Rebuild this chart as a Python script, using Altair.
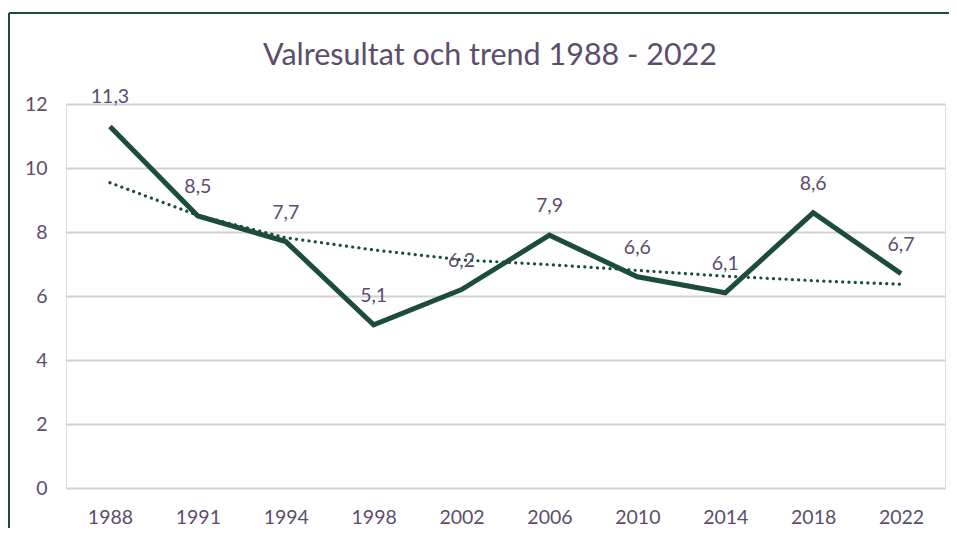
import altair as alt
import pandas as pd

years = ["1988", "1991", "1994", "1998", "2002", "2006", "2010", "2014", "2018", "2022"]
values = [11.3, 8.5, 7.7, 5.1, 6.2, 7.9, 6.6, 6.1, 8.6, 6.7]
trend = [9.54, 8.52, 7.82, 7.44, 7.13, 6.98, 6.80, 6.62, 6.48, 6.37]
labels = ["11,3", "8,5", "7,7", "5,1", "6,2", "7,9", "6,6", "6,1", "8,6", "6,7"]
title_text = ["Valresultat och trend 1988 - 2022"]

df = pd.DataFrame({"year": years, "value": values, "trend": trend, "label": labels})
tdf = pd.DataFrame({"title": title_text})

GREEN = "#1B4D3A"
TEXT = "#5B4E6C"
GRID = "#D3CFDA"
FONT = "Lato"
FS = 19.5

x = alt.X("year:O", sort=years, title=None,
          scale=alt.Scale(type="point", padding=0.5),
          axis=alt.Axis(labelAngle=0, ticks=False, domain=False, grid=False,
                        labelFont=FONT, labelFontSize=FS, labelColor=TEXT,
                        labelPadding=20))
y = alt.Y("value:Q", title=None,
          scale=alt.Scale(domain=[0, 12], nice=False, zero=True),
          axis=alt.Axis(values=[0, 2, 4, 6, 8, 10, 12], ticks=False, domain=False,
                        grid=True, gridColor=GRID, gridWidth=2,
                        labelFont=FONT, labelFontSize=FS, labelColor=TEXT,
                        labelPadding=19))

base = alt.Chart(df)

trend_line = base.mark_line(color=GREEN, strokeWidth=3.2, strokeDash=[0.1, 6.2],
                            strokeCap="round").encode(
    x=x, y=alt.Y("trend:Q", scale=alt.Scale(domain=[0, 12], nice=False)))
main_line = base.mark_line(color=GREEN, strokeWidth=5, strokeJoin="miter").encode(x=x, y=y)
text = base.mark_text(dy=-29, font=FONT, fontSize=FS, color=TEXT).encode(
    x=x, y=alt.Y("value:Q", scale=alt.Scale(domain=[0, 12], nice=False)), text="label:N")

title = alt.Chart(tdf).mark_text(font=FONT, fontSize=30.5, color=TEXT, baseline="middle",
                                 align="center").encode(
    x=alt.value(424), y=alt.value(-48), text="title:N")

border_left = base.mark_rule(color=GREEN, strokeWidth=2).encode(
    x=alt.value(-57), y=alt.value(-91), y2=alt.value(440))
border_top = base.mark_rule(color=GREEN, strokeWidth=2).encode(
    x=alt.value(-57), x2=alt.value(885), y=alt.value(-91))

chart = alt.layer(border_left, border_top, trend_line, main_line, text, title).properties(
    width=879, height=384,
    autosize=alt.AutoSizeParams(type="none"),
    padding={"left": 58, "top": 96, "right": 4, "bottom": 40},
).configure_view(stroke=None).configure(background="white")

chart.save("out.html", embed_options={"renderer": "svg", "actions": False})
